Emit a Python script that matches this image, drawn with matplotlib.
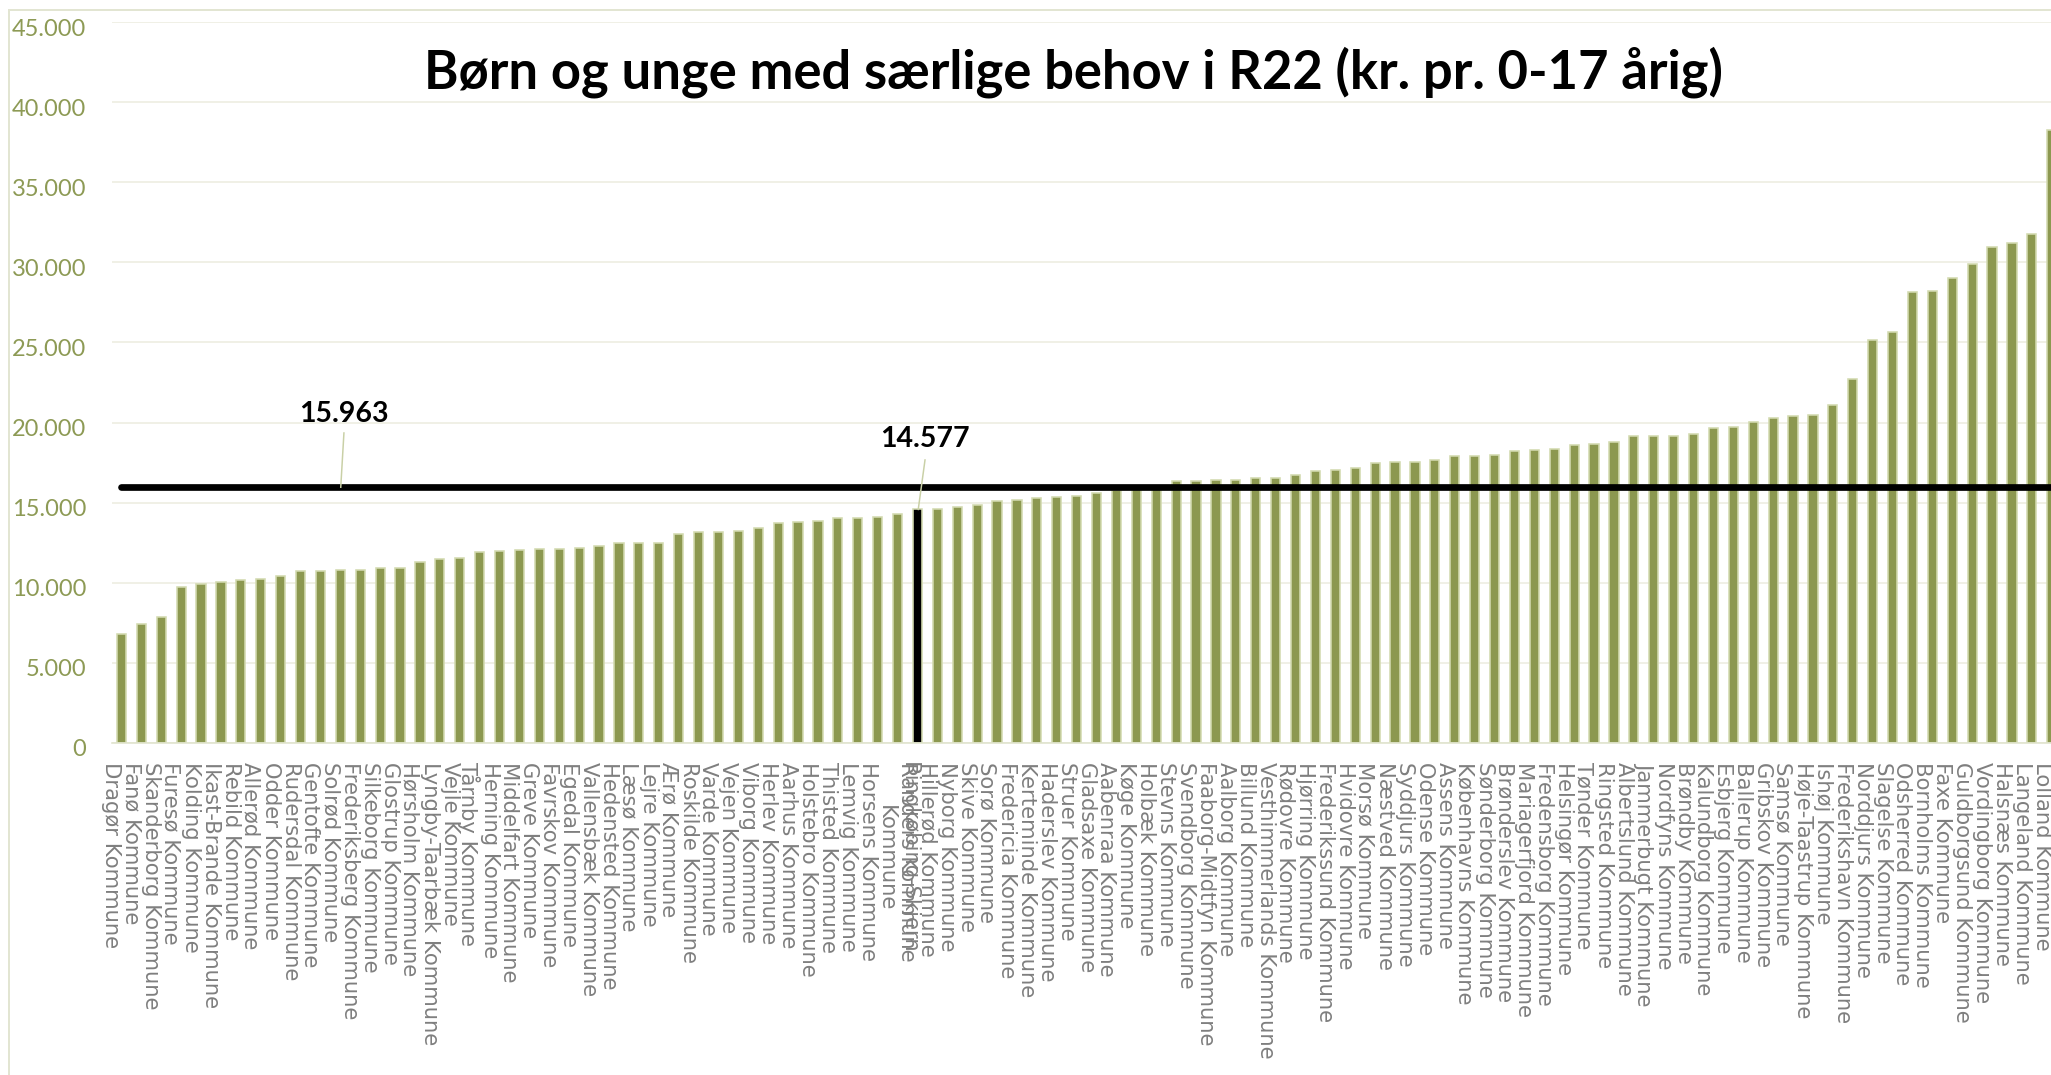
import matplotlib
matplotlib.use("Agg")
import matplotlib.pyplot as plt
import matplotlib.transforms as mtransforms
from matplotlib.patches import Rectangle

# ---------------- data ----------------
municipalities = [
    "Dragør Kommune", "Fanø Kommune", "Skanderborg Kommune", "Furesø Kommune",
    "Kolding Kommune", "Ikast-Brande Kommune", "Rebild Kommune", "Allerød Kommune",
    "Odder Kommune", "Rudersdal Kommune", "Gentofte Kommune", "Solrød Kommune",
    "Frederiksberg Kommune", "Silkeborg Kommune", "Glostrup Kommune", "Hørsholm Kommune",
    "Lyngby-Taarbæk Kommune", "Vejle Kommune", "Tårnby Kommune", "Herning Kommune",
    "Middelfart Kommune", "Greve Kommune", "Favrskov Kommune", "Egedal Kommune",
    "Vallensbæk Kommune", "Hedensted Kommune", "Læsø Kommune", "Lejre Kommune",
    "Ærø Kommune", "Roskilde Kommune", "Varde Kommune", "Vejen Kommune",
    "Viborg Kommune", "Herlev Kommune", "Aarhus Kommune", "Holstebro Kommune",
    "Thisted Kommune", "Lemvig Kommune", "Horsens Kommune", "Ringkøbing-Skjern Kommune",
    "Randers Kommune", "Hillerød Kommune", "Nyborg Kommune", "Skive Kommune",
    "Sorø Kommune", "Fredericia Kommune", "Kerteminde Kommune", "Haderslev Kommune",
    "Struer Kommune", "Gladsaxe Kommune", "Aabenraa Kommune", "Køge Kommune",
    "Holbæk Kommune", "Stevns Kommune", "Svendborg Kommune", "Faaborg-Midtfyn Kommune",
    "Aalborg Kommune", "Billund Kommune", "Vesthimmerlands Kommune", "Rødovre Kommune",
    "Hjørring Kommune", "Frederikssund Kommune", "Hvidovre Kommune", "Morsø Kommune",
    "Næstved Kommune", "Syddjurs Kommune", "Odense Kommune", "Assens Kommune",
    "Københavns Kommune", "Sønderborg Kommune", "Brønderslev Kommune", "Mariagerfjord Kommune",
    "Fredensborg Kommune", "Helsingør Kommune", "Tønder Kommune", "Ringsted Kommune",
    "Albertslund Kommune", "Jammerbugt Kommune", "Nordfyns Kommune", "Brøndby Kommune",
    "Kalundborg Kommune", "Esbjerg Kommune", "Ballerup Kommune", "Gribskov Kommune",
    "Samsø Kommune", "Høje-Taastrup Kommune", "Ishøj Kommune", "Frederikshavn Kommune",
    "Norddjurs Kommune", "Slagelse Kommune", "Odsherred Kommune", "Bornholms Kommune",
    "Faxe Kommune", "Guldborgsund Kommune", "Vordingborg Kommune", "Halsnæs Kommune",
    "Langeland Kommune", "Lolland Kommune",
]

values = [
    6800, 7430, 7840, 9740, 9940, 10070, 10150, 10240, 10420, 10710,
    10760, 10820, 10820, 10920, 10930, 11320, 11500, 11550, 11920, 11990,
    12020, 12130, 12130, 12170, 12320, 12510, 12510, 12510, 13020, 13170,
    13170, 13250, 13420, 13730, 13800, 13860, 14020, 14040, 14080, 14290,
    14577, 14620, 14730, 14870, 15100, 15150, 15310, 15340, 15400, 15590,
    15780, 15870, 15930, 16330, 16340, 16400, 16440, 16560, 16570, 16710,
    17000, 17040, 17170, 17500, 17520, 17530, 17670, 17910, 17940, 18000,
    18230, 18270, 18370, 18580, 18640, 18770, 19160, 19170, 19180, 19290,
    19660, 19750, 20060, 20270, 20390, 20500, 21080, 22740, 25160, 25680,
    28170, 28200, 29030, 29900, 30940, 31190, 31750, 38260,
]

highlight = "Randers Kommune"
national_average = 15963
title = "Børn og unge med særlige behov i R22 (kr. pr. 0-17 årig)"
y_ticks = [0, 5000, 10000, 15000, 20000, 25000, 30000, 35000, 40000, 45000]
y_tick_labels = ["0", "5.000", "10.000", "15.000", "20.000", "25.000",
                 "30.000", "35.000", "40.000", "45.000"]


def dk(v):
    return f"{v:,}".replace(",", ".")


# ---------------- figure ----------------
W, H, DPI = 2051, 1075, 100
fig = plt.figure(figsize=(W / DPI, H / DPI), dpi=DPI)
fig.patch.set_facecolor("white")


def px(p):
    return p * 72.0 / DPI


OLIVE = "#8C9850"
EDGE = "#D3DAB0"
GRID = "#EDEDE1"

left, right, top, bottom = 111.5, 2061.7, 22, 743
ax = fig.add_axes([left / W, 1 - bottom / H, (right - left) / W, (bottom - top) / H])

n = len(values)
x = list(range(n))
colors = ["#000000" if m == highlight else OLIVE for m in municipalities]
ax.bar(x, values, width=0.46, color=colors, edgecolor=EDGE, linewidth=px(1.6), zorder=2)
ax.plot(x, [national_average] * n, color="black", linewidth=px(6.7),
        solid_capstyle="round", zorder=3)

ax.set_xlim(-0.5, n - 0.5)
ax.set_ylim(0, 45000)

# y axis
ax.set_yticks(y_ticks, y_tick_labels)
ax.yaxis.grid(True, color=GRID, linewidth=px(1.6), zorder=0)
ax.set_axisbelow(True)
for s in ["top", "right", "left"]:
    ax.spines[s].set_visible(False)
ax.spines["bottom"].set_color("#DFE3CC")
ax.spines["bottom"].set_linewidth(px(1.6))
ax.tick_params(axis="y", length=0, pad=px(25.5), labelsize=px(23.6), labelcolor="#8D9A55")
shift = mtransforms.ScaledTranslation(0, -5 / DPI, fig.dpi_scale_trans)
for lab in ax.get_yticklabels():
    lab.set_fontfamily("Lato")
    lab.set_transform(lab.get_transform() + shift)

# x axis labels
disp = []
for m in municipalities:
    if len(m) >= 25:
        a, b = m.rsplit(" ", 1)
        disp.append(a + "\n" + b)
    else:
        disp.append(m)
ax.tick_params(axis="x", length=0, pad=px(19))
ax.set_xticks(x, disp, rotation=270, ha="right", va="top", fontsize=px(21.2),
              color="#7F7F7F", fontfamily="DejaVu Sans")
for lab in ax.get_xticklabels():
    if "\n" in lab.get_text():
        lab.set_ha("center")
        lab.set_multialignment("center")

# data labels with leader lines
LEAD = "#C9D0A6"
ax.plot([11.18, 11.02], [19350, national_average], color=LEAD, lw=px(1.5), zorder=4)
ax.text(11.16, 20056, dk(national_average), ha="center", va="baseline",
        fontsize=px(28.5), fontweight="bold", fontfamily="Lato", color="black", zorder=5)

hi = municipalities.index(highlight)
hv = values[hi]
ax.plot([hi + 0.38, hi + 0.04], [17665, hv], color=LEAD, lw=px(1.5), zorder=4)
ax.text(hi + 0.38, 18476, dk(hv), ha="center", va="baseline",
        fontsize=px(28.5), fontweight="bold", fontfamily="Lato", color="black", zorder=5)

# title
fig.text(1074 / W, 1 - 89 / H, title, ha="center", va="baseline", fontsize=px(52.5),
         fontweight="bold", fontfamily="Lato", color="black")

# chart area border
fig.add_artist(Rectangle((9 / W, -0.5), 2.0, 0.5 + 1 - 10 / H, transform=fig.transFigure,
                         fill=False, edgecolor="#E2E5D2", linewidth=px(2)))

fig.savefig("out.png", dpi=DPI, facecolor="white")
